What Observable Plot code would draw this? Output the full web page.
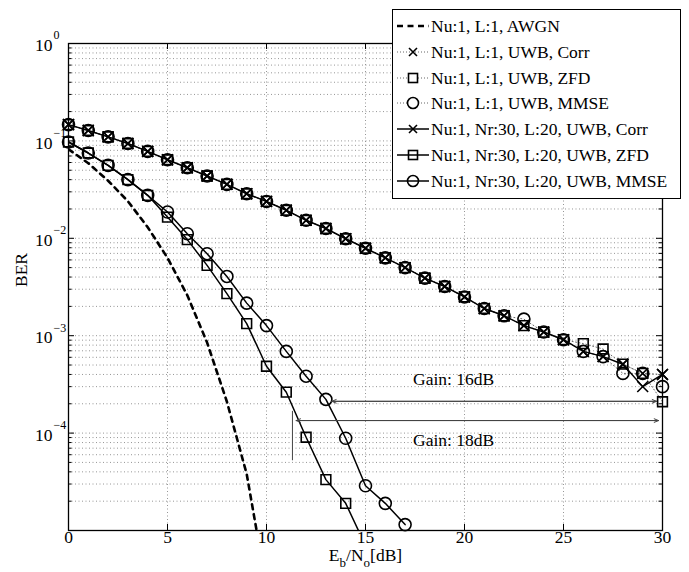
<!DOCTYPE html>
<html>
<head>
<meta charset="utf-8">
<script src="https://cdn.jsdelivr.net/npm/d3@7"></script>
<script src="https://cdn.jsdelivr.net/npm/@observablehq/plot@0.6"></script>
<style>
  body { margin: 0; background: #fff; }
  #wrap { position: relative; width: 689px; height: 572px; overflow: hidden; font-family: "Liberation Serif", "Times New Roman", serif; }
  #legend { position: absolute; left: 392px; top: 9px; width: 289px; height: 190px; border: 1px solid #000; background: #fff; box-sizing: border-box; }
  .row { position: absolute; left: 0; height: 22px; white-space: nowrap; font-size: 17.5px; line-height: 22px; color: #000; }
  .row svg { position: absolute; left: 3px; top: 1px; }
  .row span { position: absolute; left: 38px; top: 0; }
</style>
</head>
<body>
<div id="wrap"></div>
<script>
// ---------------- data ----------------
const ebn0 = [0,1,2,3,4,5,6,7,8,9,10,11,12,13,14,15,16,17,18,19,20,21,22,23,24,25,26,27,28,29,30];

const awgnX   = [0,1,2,3,4,5,6,7,8,9,9.5];
const awgnBer = [0.082,0.059,0.039,0.024,0.013,0.0063,0.0026,0.00085,0.00021,0.000038,0.00001];

const corrL1 = [0.147,0.128,0.110,0.094,0.078,0.064,0.053,0.0436,0.0358,0.0287,0.0239,0.0194,0.0153,0.0126,0.0099,0.0079,0.0063,0.0050,0.0039,0.0032,0.0025,0.0019,0.0016,0.00127,0.00109,0.00091,0.00069,0.00061,0.00051,0.00041,0.00040];
const zfdL1  = [0.147,0.128,0.110,0.094,0.078,0.064,0.053,0.0436,0.0358,0.0287,0.0239,0.0194,0.0153,0.0126,0.0099,0.0079,0.0063,0.0050,0.0039,0.0032,0.0025,0.0019,0.0016,0.00127,0.00109,0.00091,0.00083,0.00073,0.00051,0.00041,0.00021];
const mmseL1 = [0.147,0.128,0.110,0.094,0.078,0.064,0.053,0.0436,0.0358,0.0287,0.0239,0.0194,0.0153,0.0126,0.0099,0.0079,0.0063,0.0050,0.0039,0.0032,0.0025,0.0019,0.0016,0.00148,0.00109,0.00091,0.00069,0.00061,0.00041,0.00041,0.00030];
const corrNr = [0.147,0.128,0.110,0.094,0.078,0.064,0.053,0.0436,0.0358,0.0287,0.0239,0.0194,0.0153,0.0126,0.0099,0.0079,0.0063,0.0050,0.0039,0.0032,0.0025,0.0019,0.0016,0.00127,0.00109,0.00091,0.00069,0.00061,0.00051,0.00030,0.00040];

const zfdNrX  = [0,1,2,3,4,5,6,7,8,9,10,11,12,13,14,15];
const zfdNr   = [0.0975,0.0751,0.0561,0.040,0.0276,0.0165,0.0097,0.00527,0.0027,0.00133,0.000486,0.000263,0.0000906,0.0000333,0.000019,0.000007];
const mmseNrX = [0,1,2,3,4,5,6,7,8,9,10,11,12,13,14,15,16,17];
const mmseNr  = [0.0975,0.0751,0.0561,0.040,0.0276,0.0186,0.01115,0.00695,0.00406,0.00216,0.00127,0.00069,0.000384,0.000222,0.0000885,0.0000288,0.000019,0.0000115];

const xTicks = [0,5,10,15,20,25,30];
const yTicks = [1e-4,1e-3,1e-2,1e-1,1];
const yExp   = ["\u22124","\u22123","\u22122","\u22121","0"];

const gainLines  = [{x1: 13.3, x2: 29.7, y: 2.12e-4}, {x1: 11.5, x2: 29.8, y: 1.345e-4}];
const gainMarker = [{x: 11.31, y1: 1.67e-4, y2: 5.2e-5}];
const gainLabels = [{x: 17.4, y: 3.6e-4, t: "Gain: 16dB"}, {x: 17.4, y: 8.5e-5, t: "Gain: 18dB"}];

const legendLabels = [
  "Nu:1, L:1, AWGN",
  "Nu:1, L:1, UWB, Corr",
  "Nu:1, L:1, UWB, ZFD",
  "Nu:1, L:1, UWB, MMSE",
  "Nu:1, Nr:30, L:20, UWB, Corr",
  "Nu:1, Nr:30, L:20, UWB, ZFD",
  "Nu:1, Nr:30, L:20, UWB, MMSE"
];

// ---------------- layout ----------------
const W = 689, H = 572, mL = 68, mR = 27, mT = 43, mB = 42;
const plotW = W - mL - mR, plotH = H - mT - mB;

const gridY = [];
for (let e = -5; e < 0; e++) for (let m = 1; m < 10; m++) gridY.push(m * Math.pow(10, e));
const gridInner = gridY.filter(v => v > 1.01e-5 && v < 0.99);
const minorY = gridInner.filter(v => !yTicks.some(t => Math.abs(t - v) / t < 1e-6));

const rows = (xs, ys) => xs.map((x, i) => ({x, y: ys[i]}));

const dotStyle = {x: "x", y: "y", stroke: "#000", fill: "none", strokeWidth: 1.6};
const solid = {x: "x", y: "y", stroke: "#000", strokeWidth: 1.5};
const dotted = {x: "x", y: "y", stroke: "#666", strokeWidth: 1, strokeDasharray: "1,2.5"};

const chart = Plot.plot({
  width: W, height: H,
  marginLeft: mL, marginRight: mR, marginTop: mT, marginBottom: mB,
  style: {fontFamily: '"Liberation Serif", "Times New Roman", serif', fontSize: "17.5px", background: "#fff", color: "#000", overflow: "visible"},
  x: {domain: [0, 30], axis: null},
  y: {type: "log", domain: [1e-5, 1], axis: null},
  marks: [
    // grid
    Plot.ruleY(gridInner, {y: d => d, stroke: "#8a8a8a", strokeWidth: 0.9, strokeDasharray: "1,2.5"}),
    Plot.ruleX(xTicks.filter(v => v > 0 && v < 30), {x: d => d, stroke: "#8a8a8a", strokeWidth: 0.9, strokeDasharray: "1,2.5"}),
    // inward ticks
    Plot.tickX(xTicks, {x: d => d, insetTop: plotH - 6, stroke: "#000"}),
    Plot.tickX(xTicks, {x: d => d, insetBottom: plotH - 6, stroke: "#000"}),
    Plot.tickY(yTicks, {y: d => d, insetRight: plotW - 6, stroke: "#000"}),
    Plot.tickY(yTicks, {y: d => d, insetLeft: plotW - 6, stroke: "#000"}),
    Plot.tickY(minorY, {y: d => d, insetRight: plotW - 3.5, stroke: "#000"}),
    Plot.tickY(minorY, {y: d => d, insetLeft: plotW - 3.5, stroke: "#000"}),
    // AWGN
    Plot.line(rows(awgnX, awgnBer), {x: "x", y: "y", stroke: "#000", strokeWidth: 2.6, strokeDasharray: "5,5", clip: true}),
    // L:1 (dotted)
    Plot.line(rows(ebn0, corrL1), dotted),
    Plot.line(rows(ebn0, zfdL1), dotted),
    Plot.line(rows(ebn0, mmseL1), dotted),
    // Nr:30 (solid)
    Plot.line(rows(ebn0, corrNr), solid),
    Plot.line(rows(zfdNrX, zfdNr), {...solid, clip: true}),
    Plot.line(rows(mmseNrX, mmseNr), {...solid, clip: true}),
    // markers
    Plot.dot(rows(ebn0, corrL1), {...dotStyle, symbol: "times", r: 5}),
    Plot.dot(rows(ebn0, zfdL1), {...dotStyle, symbol: "square", r: 5.5}),
    Plot.dot(rows(ebn0, mmseL1), {...dotStyle, symbol: "circle", r: 6}),
    Plot.dot(rows(ebn0, corrNr), {...dotStyle, symbol: "times", r: 5}),
    Plot.dot(rows(zfdNrX, zfdNr).filter(d => d.y >= 1e-5), {...dotStyle, symbol: "square", r: 5.5}),
    Plot.dot(rows(mmseNrX, mmseNr), {...dotStyle, symbol: "circle", r: 6}),
    // frame
    Plot.frame({stroke: "#000", strokeWidth: 1.3}),
    // gain annotations
    Plot.arrow(gainLines, {x1: "x1", x2: "x2", y1: "y", y2: "y", stroke: "#444", strokeWidth: 1, headLength: 7, headAngle: 45}),
    Plot.arrow(gainLines, {x1: "x2", x2: "x1", y1: "y", y2: "y", stroke: "#444", strokeWidth: 1, headLength: 7, headAngle: 45}),
    Plot.ruleX(gainMarker, {x: "x", y1: "y1", y2: "y2", stroke: "#444", strokeWidth: 1}),
    Plot.text(gainLabels, {x: "x", y: "y", text: "t", textAnchor: "start", fill: "#000"}),
    // axis labels
    Plot.text(xTicks, {x: d => d, frameAnchor: "bottom", dy: 12, text: d => String(d), fill: "#000"}),
    Plot.text(yTicks, {y: d => d, frameAnchor: "left", dx: -16, dy: 2, textAnchor: "end", text: () => "10", fill: "#000"}),
    Plot.text(yTicks, {y: d => d, frameAnchor: "left", dx: -15, dy: -8, textAnchor: "start", fontSize: 12, text: (d, i) => yExp[i], fill: "#000"}),
    Plot.text(["BER"], {frameAnchor: "left", dx: -47, rotate: -90, text: d => d, fill: "#000"}),
    Plot.text(["E_b/N_o[dB]"], {frameAnchor: "bottom", dy: 30, text: d => d, fill: "#000", className: "xlab"})
  ]
});

document.getElementById("wrap").appendChild(chart);

// subscripts in x label
d3.select(chart).selectAll("g.xlab text").each(function () {
  const t = d3.select(this);
  t.text(null);
  t.append("tspan").text("E");
  t.append("tspan").attr("dy", 6).attr("font-size", 13).text("b");
  t.append("tspan").attr("dy", -6).text("/N");
  t.append("tspan").attr("dy", 6).attr("font-size", 13).text("o");
  t.append("tspan").attr("dy", -6).text("[dB]");
});

// ---------------- legend ----------------
const legendKinds = [
  {line: "dash", marker: null},
  {line: "dot", marker: "times"},
  {line: "dot", marker: "square"},
  {line: "dot", marker: "circle"},
  {line: "solid", marker: "times"},
  {line: "solid", marker: "square"},
  {line: "solid", marker: "circle"}
];
function sampleSvg(k) {
  let s = '<svg width="34" height="20" viewBox="0 0 34 20">';
  if (k.line === "dash") s += '<line x1="1" x2="33" y1="10" y2="10" stroke="#000" stroke-width="2.4" stroke-dasharray="6,4.5"/>';
  else if (k.line === "dot") s += '<line x1="1" x2="33" y1="10" y2="10" stroke="#666" stroke-width="1" stroke-dasharray="1,2"/>';
  else s += '<line x1="1" x2="33" y1="10" y2="10" stroke="#000" stroke-width="1.5"/>';
  const c = 17;
  if (k.marker === "circle") s += `<circle cx="${c}" cy="10" r="5.5" fill="${k.line==='dot'?'#fff':'none'}" stroke="#000" stroke-width="1.6"/>`;
  if (k.marker === "square") s += `<rect x="${c-4.5}" y="5.5" width="9" height="9" fill="${k.line==='dot'?'#fff':'none'}" stroke="#000" stroke-width="1.6"/>`;
  if (k.marker === "times") s += `<path d="M${c-4},6L${c+4},14M${c-4},14L${c+4},6" stroke="#000" stroke-width="1.6"/>`;
  return s + '</svg>';
}
const legend = document.createElement("div");
legend.id = "legend";
legendLabels.forEach((lab, i) => {
  const r = document.createElement("div");
  r.className = "row";
  r.style.top = (5 + 25.8 * i) + "px";
  r.innerHTML = sampleSvg(legendKinds[i]) + "<span></span>";
  r.querySelector("span").textContent = lab;
  legend.appendChild(r);
});
document.getElementById("wrap").appendChild(legend);
</script>
</body>
</html>
